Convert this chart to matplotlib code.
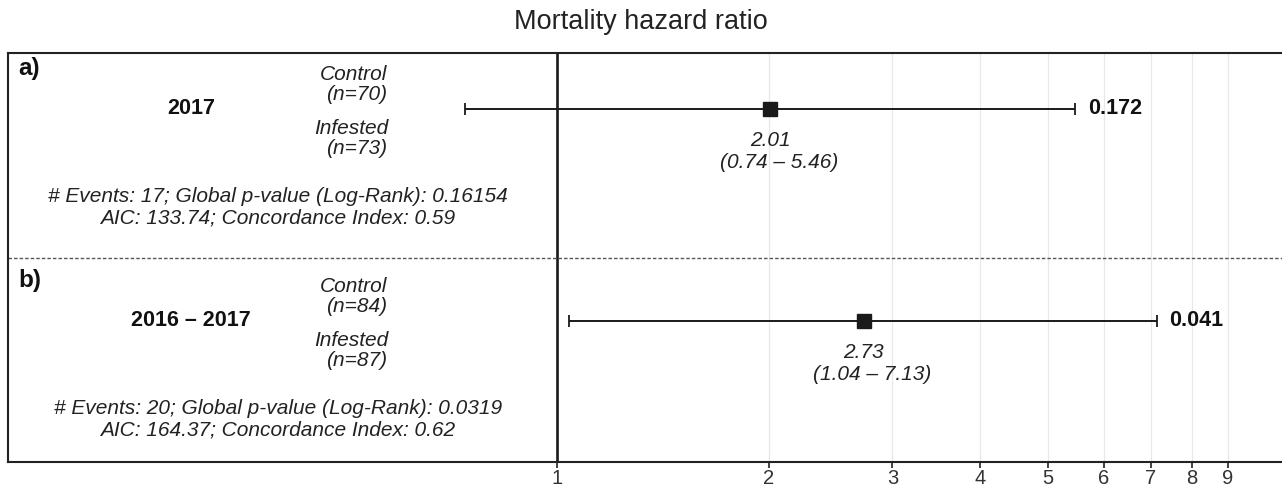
import matplotlib.pyplot as plt
from matplotlib.transforms import blended_transform_factory

plt.rcParams['font.family'] = ['Liberation Sans', 'DejaVu Sans']

# Cox model results, one entry per period
panels = ['a)', 'b)']
periods = ['2017', '2016 \u2013 2017']
n_control = [70, 84]
n_infested = [73, 87]
hazard_ratio = [2.01, 2.73]
ci_low = [0.74, 1.04]
ci_high = [5.46, 7.13]
p_values = ['0.172', '0.041']
n_events = [17, 20]
logrank_p = ['0.16154', '0.0319']
aic = [133.74, 164.37]
concordance = [0.59, 0.62]

xticks = [1, 2, 3, 4, 5, 6, 7, 8, 9]

W, H = 1282, 488
TOP, BOTTOM, LEFT = 53, 462, 8
fig = plt.figure(figsize=(W / 100, H / 100), dpi=100)
ax = fig.add_axes([LEFT / W, (H - BOTTOM) / H, (W - LEFT) / W, (BOTTOM - TOP) / H])


def yp(pix):
    # pixel row in the figure -> y data (panel a spans 1..2, panel b 0..1)
    return (BOTTOM - pix) * 2 / (BOTTOM - TOP)


ax.set_xscale('log')
ax.set_xlim(0.1656, 10.75)
ax.set_ylim(0, 2)
ax.set_xticks(xticks)
ax.set_xticklabels([str(t) for t in xticks])
ax.xaxis.set_minor_locator(plt.NullLocator())
ax.set_yticks([])
ax.tick_params(axis='x', length=4, width=1.3, color='#333333', labelsize=14.5,
               labelcolor='#333333', pad=1)

for s in ['top', 'bottom', 'left']:
    ax.spines[s].set_color('#222222')
    ax.spines[s].set_linewidth(1.5)
ax.spines['right'].set_visible(False)

for t in xticks[1:]:
    ax.axvline(t, color='#e8e8e8', lw=0.9, zorder=0)
ax.axvline(1, color='#1a1a1a', lw=1.9, zorder=1)
ax.axhline(1, color='#555555', lw=1, ls=(0, (2.5, 1.5)), zorder=1)

trans = blended_transform_factory(fig.transFigure, ax.transData)
italic = dict(style='italic', fontsize=15, color='#222222', va='center')

# vertical layout of each panel, in figure pixels from the top
shift = [0, 212]
for i in range(2):
    s = shift[i]
    y = yp(109 + s)
    ax.errorbar(hazard_ratio[i], y, xerr=[[hazard_ratio[i] - ci_low[i]],
                                          [ci_high[i] - hazard_ratio[i]]],
                fmt='s', color='#1a1a1a', ms=10, lw=1.4, capsize=4,
                capthick=1.3, zorder=3)
    ax.text(hazard_ratio[i], yp(141 + s), f'{hazard_ratio[i]:.2f}',
            ha='center', **italic)
    ax.text(hazard_ratio[i] * 1.03, yp(163 + s),
            f'({ci_low[i]:.2f} \u2013 {ci_high[i]:.2f})', ha='center', **italic)
    ax.annotate(p_values[i], (ci_high[i], y), xytext=(9, 0),
                textcoords='offset points', ha='left', va='center',
                fontweight='bold', fontsize=15.5, color='#111111')

    ax.text(18 / W, yp(69 + s), panels[i], transform=trans, ha='left',
            va='center', fontweight='bold', fontsize=17.5, color='#111111')
    ax.text(191 / W, y, periods[i], transform=trans, ha='center',
            va='center', fontweight='bold', fontsize=15.5, color='#111111')
    ax.text(387 / W, yp(74 + s), 'Control', transform=trans, ha='right',
            **italic)
    ax.text(387 / W, yp(95 + s), f'(n={n_control[i]})', transform=trans,
            ha='right', **italic)
    ax.text(388 / W, yp(128 + s), 'Infested', transform=trans, ha='right',
            **italic)
    ax.text(387 / W, yp(149 + s), f'(n={n_infested[i]})', transform=trans,
            ha='right', **italic)
    ax.text(278 / W, yp(197 + s),
            f'# Events: {n_events[i]}; Global p-value (Log-Rank): {logrank_p[i]}',
            transform=trans, ha='center', **italic)
    ax.text(278 / W, yp(218 + s),
            f'AIC: {aic[i]:.2f}; Concordance Index: {concordance[i]:.2f}',
            transform=trans, ha='center', **italic)

fig.text(0.5, 1 - 22 / H, 'Mortality hazard ratio', ha='center',
         va='center', fontsize=19.5, color='#222222')

fig.savefig('out.png', dpi=100)
